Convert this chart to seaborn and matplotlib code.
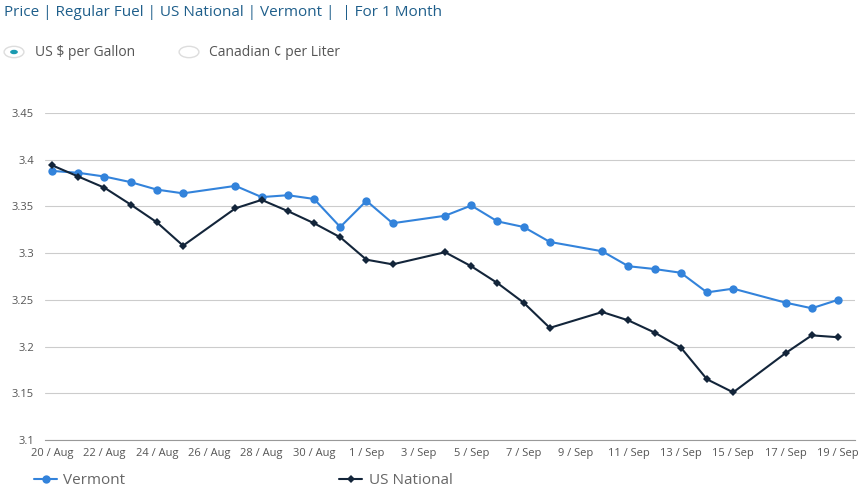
import matplotlib
matplotlib.use("Agg")
import matplotlib.pyplot as plt
import seaborn as sns
import pandas as pd
from matplotlib.patches import Circle

days = [0,1,2,3,4,5,7,8,9,10,11,12,13,15,16,17,18,19,21,22,23,24,25,26,28,29,30]
vermont = [3.388,3.386,3.382,3.376,3.368,3.364,3.372,3.360,3.362,3.358,3.328,3.356,3.332,3.340,3.351,3.334,3.328,3.312,3.302,3.286,3.283,3.279,3.258,3.262,3.247,3.241,3.250]
us_nat = [3.394,3.382,3.370,3.352,3.333,3.308,3.348,3.357,3.345,3.332,3.317,3.293,3.288,3.301,3.286,3.268,3.247,3.220,3.237,3.228,3.215,3.199,3.165,3.151,3.193,3.212,3.210]
tick_days = list(range(0, 31, 2))
tick_labels = ["20 / Aug","22 / Aug","24 / Aug","26 / Aug","28 / Aug","30 / Aug","1 / Sep","3 / Sep","5 / Sep","7 / Sep","9 / Sep","11 / Sep","13 / Sep","15 / Sep","17 / Sep","19 / Sep"]
y_ticks = [3.1,3.15,3.2,3.25,3.3,3.35,3.4,3.45]

sns.set_style("white")
plt.rcParams['font.family'] = ['Open Sans', 'DejaVu Sans']
c_vt = "#3383db"
c_us = "#13253a"

fig = plt.figure(figsize=(8.6, 4.93), dpi=100)
ax = fig.add_axes([45/860, 53/493, 810/860, 327/493])
df = pd.DataFrame({"day": days, "Vermont": vermont, "US National": us_nat})
sns.lineplot(data=df, x="day", y="Vermont", ax=ax, color=c_vt, marker="o", markersize=6, markeredgewidth=0, linewidth=1.5, label="Vermont")
sns.lineplot(data=df, x="day", y="US National", ax=ax, color=c_us, marker="D", markersize=4.5, markeredgewidth=0, linewidth=1.5, label="US National")
ax.set_xlim(-0.27, 30.65)
ax.set_ylim(3.1, 3.45)
ax.set_yticks(y_ticks)
ax.set_yticklabels([f"{v:g}" for v in y_ticks], fontsize=8, color="#555555")
ax.set_xticks(tick_days)
ax.set_xticklabels(tick_labels, fontsize=8, color="#555555")
ax.tick_params(axis="y", length=0, pad=8)
ax.tick_params(axis="x", length=4, color="#999999", pad=2)
ax.yaxis.grid(True, color="#cccccc", linewidth=0.8)
for s in ["top", "right", "left"]:
    ax.spines[s].set_visible(False)
ax.spines["bottom"].set_color("#999999")
ax.set_xlabel("")
ax.set_ylabel("")
ax.legend(loc="upper left", bbox_to_anchor=(-0.03, -0.06), ncol=2, frameon=False, fontsize=11,
          labelcolor="#666666", columnspacing=14, handlelength=1.5, handletextpad=0.4)

fig.text(4/860, 1-13/493, "Price | Regular Fuel | US National | Vermont |  | For 1 Month", fontsize=11, color="#1f5f8b", va="center")
c1 = Circle((14/860, 1-52/493), 0.0115, transform=fig.transFigure, facecolor="white", edgecolor="#dddddd", lw=1)
fig.patches.append(c1)
fig.patches.append(Circle((14/860, 1-52/493), 0.0045, transform=fig.transFigure, facecolor="#1a9ab0", edgecolor="none"))
fig.patches.append(Circle((189/860, 1-52/493), 0.0115, transform=fig.transFigure, facecolor="white", edgecolor="#dddddd", lw=1))
fig.text(35/860, 1-52/493, "US $ per Gallon", fontsize=10, color="#555555", va="center")
fig.text(209/860, 1-52/493, "Canadian ¢ per Liter", fontsize=10, color="#555555", va="center")
fig.savefig("out.png", dpi=100)
